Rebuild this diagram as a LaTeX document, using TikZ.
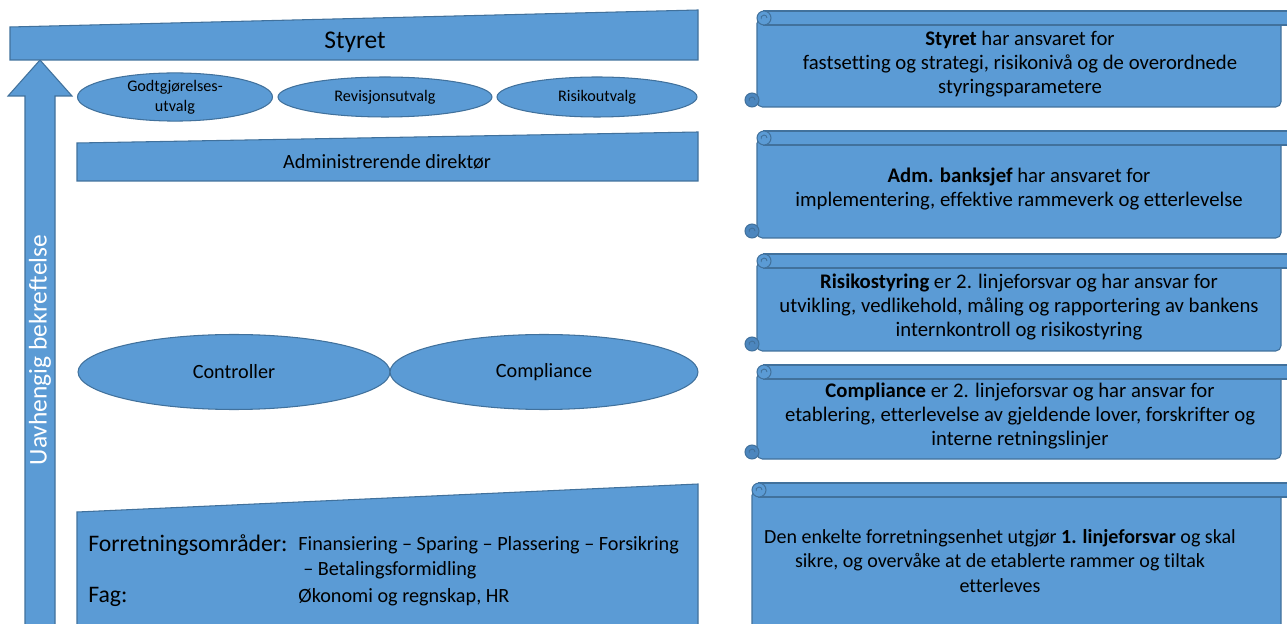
\documentclass[tikz,border=0pt]{standalone}
\usepackage{fontspec}
\setmainfont{Carlito}[Ligatures=NoCommon]
\usepackage{tikz}
\usetikzlibrary{shapes.geometric}

\definecolor{officeblue}{HTML}{5B9BD5}
\definecolor{officeline}{HTML}{41719C}
\definecolor{rolldark}{HTML}{4C86BE}

\tikzset{
  blockshape/.style={fill=officeblue, draw=officeline, line width=0.6pt},
  oval/.style={ellipse, fill=officeblue, draw=officeline, line width=0.6pt, inner sep=0pt, align=center},
  scrolltext/.style={font=\fontsize{11.8}{13.7}\selectfont, align=center},
  boxtext/.style={font=\fontsize{11.5}{14}\selectfont, anchor=west, inner sep=0pt},
  headtext/.style={font=\fontsize{13.5}{16}\selectfont, anchor=west, inner sep=0pt},
}

\begin{document}
\begin{tikzpicture}[x=0.02cm, y=-0.02cm]
    \useasboundingbox (0,0) rectangle (1287,624);

    % big arrow on the left
    \draw[blockshape] (25,640) -- (25,96) -- (8,96) -- (40,60) -- (72,96) -- (55,96) -- (55,640) -- cycle;
    \node[rotate=90, text=white, font=\fontsize{14.5}{17}\selectfont] (bekreft) at (40,350) {Uavhengig bekreftelse};

    % styret
    \draw[blockshape] (10,27) -- (698,10) -- (698,60) -- (10,60) -- cycle;
    \node[font=\fontsize{14.5}{17}\selectfont] (styret) at (355,42) {Styret};

    % utvalg
    \node[oval, minimum width=3.9cm, minimum height=0.8cm, font=\fontsize{9.2}{11.4}\selectfont] (godtgj) at (175,97) {Godtgjørelses-\\utvalg};
    \node[oval, minimum width=4.28cm, minimum height=0.8cm, font=\fontsize{9.2}{11.4}\selectfont] (revisjon) at (385,97) {Revisjonsutvalg};
    \node[oval, minimum width=4.0cm, minimum height=0.8cm, font=\fontsize{9.2}{11.4}\selectfont] (risikoutv) at (597,97) {Risikoutvalg};

    % adm. dir.
    \draw[blockshape] (77,143) -- (698,132) -- (698,181) -- (77,181) -- cycle;
    \node[font=\fontsize{11.5}{14}\selectfont] (admdir) at (387,162) {Administrerende direktør};

    % kontrollfunksjoner
    \node[oval, minimum width=6.24cm, minimum height=1.5cm, font=\fontsize{11.5}{14}\selectfont] (controller) at (234,372) {Controller};
    \node[oval, minimum width=6.16cm, minimum height=1.5cm, font=\fontsize{11.5}{14}\selectfont] (compliance) at (544,372) {Compliance};

    % forretningsomraader
    \draw[blockshape] (77,512) -- (698,484) -- (698,640) -- (77,640) -- cycle;
    \node[headtext] (omr) at (88,545) {Forretningsområder:};
    \node[boxtext] (omrliste) at (298,545) {Finansiering – Sparing – Plassering – Forsikring};
    \node[boxtext] (omrliste2) at (303,570) {– Betalingsformidling};
    \node[headtext] (fag) at (88,597) {Fag:};
    \node[boxtext] (fagliste) at (298,597) {Økonomi og regnskap, HR};

    % scrolls on the right
    \foreach \t/\b/\l in {11/107/757, 131/238/757, 254/351/757, 365/459/757, 483/640/752} {
        \draw[blockshape, rounded corners=3pt] (\l,\t+7) -- (1281,\t+7) -- (1281,\b) -- (\l,\b) -- cycle;
        \draw[blockshape] (\l+7,\t) rectangle (1300,\t+14);
        \draw[blockshape] (\l+7,\t+7) circle (0.14cm);
        \draw[officeline, line width=0.5pt] (\l+10,\t+7) arc[start angle=0, end angle=200, radius=0.06cm];
        \draw[blockshape, fill=rolldark] (\l-5,\b-7) circle (0.14cm);
        \draw[officeline, line width=0.5pt] (\l-2,\b-7) arc[start angle=0, end angle=200, radius=0.06cm];
    }

    \node[scrolltext] (ansvarstyret) at (1020,64) {\textbf{Styret} har ansvaret for\\fastsetting og strategi, risikonivå og de overordnede\\styringsparametere};
    \node[scrolltext] (ansvaradm) at (1019,189) {\textbf{Adm. banksjef} har ansvaret for\\implementering, effektive rammeverk og etterlevelse};
    \node[scrolltext] (ansvarrisiko) at (1019,307) {\textbf{Risikostyring} er 2. linjeforsvar og har ansvar for\\utvikling, vedlikehold, måling og rapportering av bankens\\internkontroll og risikostyring};
    \node[scrolltext] (ansvarcompl) at (1020,416) {\textbf{Compliance} er 2. linjeforsvar og har ansvar for\\etablering, etterlevelse av gjeldende lover, forskrifter og\\interne retningslinjer};
    \node[scrolltext, font=\fontsize{11.4}{13.7}\selectfont] (ansvarlinje) at (1000,561) {Den enkelte forretningsenhet utgjør \textbf{1. linjeforsvar} og skal\\sikre, og overvåke at de etablerte rammer og tiltak\\etterleves};
\end{tikzpicture}
\end{document}
